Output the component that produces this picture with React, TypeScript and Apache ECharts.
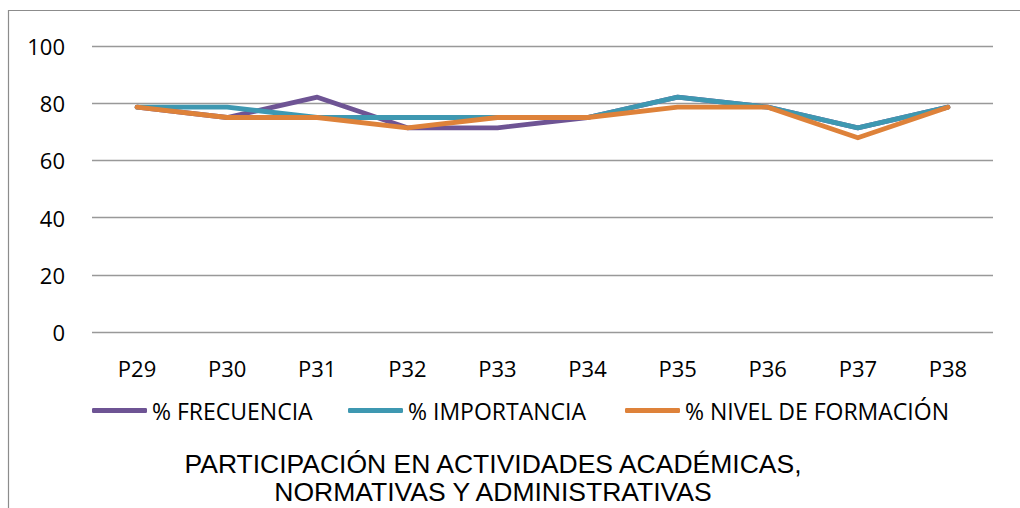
import React, { useEffect, useRef } from "react";
import * as echarts from "echarts";

const categories = ["P29", "P30", "P31", "P32", "P33", "P34", "P35", "P36", "P37", "P38"];
const frecuencia = [78.6, 75, 82.1, 71.4, 71.4, 75, 82.1, 78.6, 71.4, 78.6];
const importancia = [78.6, 78.6, 75, 75, 75, 75, 82.1, 78.6, 71.4, 78.6];
const nivelFormacion = [78.6, 75, 75, 71.4, 75, 75, 78.6, 78.6, 67.9, 78.6];
const seriesNames = ["% FRECUENCIA", "% IMPORTANCIA", "% NIVEL DE FORMACIÓN"];
const titleText = "PARTICIPACIÓN EN ACTIVIDADES ACADÉMICAS,\nNORMATIVAS Y ADMINISTRATIVAS";

const colors = ["#6E5494", "#3E98B1", "#DE823A"];
const labelFont = "'Open Sans', 'Noto Sans', sans-serif";

export default function App() {
  const ref = useRef<HTMLDivElement>(null);
  useEffect(() => {
    document.body.style.margin = "0";
    if (!ref.current) return;
    const chart = echarts.init(ref.current, undefined, { renderer: "svg" });
    const dataSets = [frecuencia, importancia, nivelFormacion];
    const legendLefts = [92, 348, 625];
    chart.setOption({
      animation: false,
      backgroundColor: "#ffffff",
      title: {
        text: titleText,
        left: 493,
        top: 450,
        padding: 0,
        textAlign: "center",
        textStyle: {
          fontFamily: "'Liberation Sans', Arial, sans-serif",
          fontSize: 26.5,
          fontWeight: "normal",
          color: "#000",
          lineHeight: 28,
        },
      },
      legend: seriesNames.map((n, i) => ({
        data: [n],
        left: legendLefts[i],
        top: 399,
        padding: 0,
        itemWidth: 55,
        itemHeight: 5,
        icon: "roundRect",
        textStyle: { fontFamily: labelFont, fontSize: 23, color: "#000" },
      })),
      grid: { left: 92, right: 27, top: 46, bottom: 176, containLabel: false },
      xAxis: {
        type: "category",
        data: categories,
        boundaryGap: true,
        axisLine: { show: false },
        axisTick: { show: false },
        axisLabel: { margin: 25, fontFamily: labelFont, fontSize: 22, color: "#000" },
      },
      yAxis: {
        type: "value",
        min: 0,
        max: 100,
        interval: 20,
        axisLine: { show: false },
        axisTick: { show: false },
        axisLabel: { margin: 27, fontFamily: labelFont, fontSize: 22, color: "#000" },
        splitLine: { lineStyle: { color: "#999999", width: 1.3 } },
      },
      series: seriesNames.map((n, i) => ({
        name: n,
        type: "line",
        data: dataSets[i],
        symbol: "none",
        color: colors[i],
        lineStyle: { width: 4.8, color: colors[i], cap: "round", join: "round" },
        itemStyle: { color: colors[i] },
      })),
      graphic: [
        {
          type: "rect",
          shape: { x: 8.5, y: 10.5, width: 1100, height: 700 },
          style: { fill: "none", stroke: "#8c8c8c", lineWidth: 1.2 },
          silent: true,
        },
      ],
    });
    return () => chart.dispose();
  }, []);
  return <div ref={ref} style={{ width: 1020, height: 508 }} />;
}
